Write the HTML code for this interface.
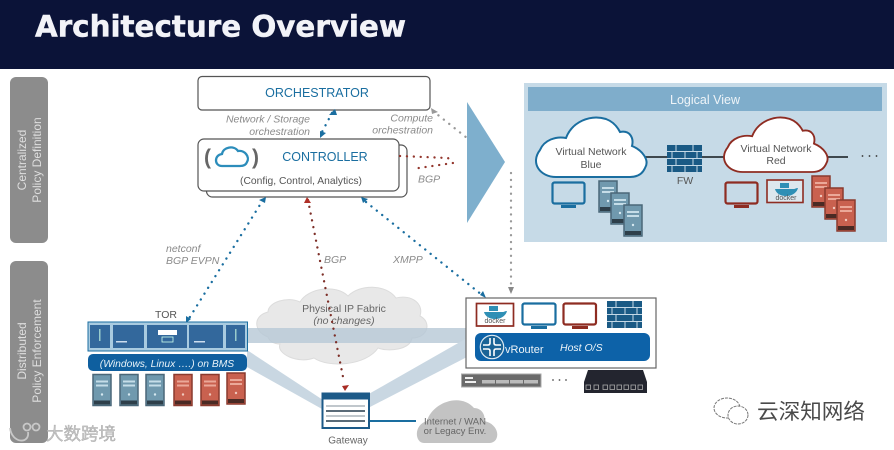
<!DOCTYPE html>
<html><head><meta charset="utf-8"><style>
html,body{margin:0;padding:0;background:#fff;width:894px;height:450px;overflow:hidden}
svg{display:block;filter:blur(.3px)}
text{font-family:"Liberation Sans","Noto Sans CJK SC",sans-serif}
</style></head><body>
<svg width="894" height="450" viewBox="0 0 894 450" xmlns="http://www.w3.org/2000/svg">
<defs>
<symbol id="srvB" overflow="visible"><rect x="0" y="0" width="18" height="31" fill="#7099ae" stroke="#4a6778" stroke-width="1.5"/><rect x="3" y="6" width="12" height="2" fill="#c5dde8"/><rect x="3" y="10" width="12" height="2" fill="#c5dde8"/><circle cx="9" cy="20" r="1.2" fill="#d5e8f0"/><rect x="1" y="26" width="16" height="4" fill="#2e3f4a"/></symbol>
<symbol id="srvR" overflow="visible"><rect x="0" y="0" width="18" height="31" fill="#c9614f" stroke="#8a3a2e" stroke-width="1.5"/><rect x="3" y="6" width="12" height="2" fill="#eba898"/><rect x="3" y="10" width="12" height="2" fill="#eba898"/><circle cx="9" cy="20" r="1.2" fill="#f0c8bd"/><rect x="1" y="26" width="16" height="4" fill="#4a2a24"/></symbol>
<symbol id="fw" overflow="visible"><rect width="35" height="27" fill="#1a5a85"/><g stroke="#c5d9e6" stroke-width="1" fill="none"><path d="M0 6.5H35M0 13.5H35M0 20.5H35M9 0V6.5M26 0V6.5M5 6.5V13.5M18 6.5V13.5M30 6.5V13.5M9 13.5V20.5M26 13.5V20.5M5 20.5V27M18 20.5V27M30 20.5V27"/></g></symbol>
<symbol id="docker" overflow="visible"><path d="M7 9H26C27 9 28 8 30 8 29 12 25 16 18 16 12 16 8 13 7 9Z" fill="#2f8fb5"/><rect x="12" y="3" width="9" height="5" fill="#2f8fb5"/><text x="18" y="20" font-size="7" fill="#555" text-anchor="middle">docker</text></symbol>
<path id="cl" d="M556 177C540 177 530 163 540 150C544 140 556 136 566 138C572 122 590 114 606 119C614 122 618 128 620 132C630 130 634 138 632 146C642 150 650 160 645 168C642 175 636 177 630 177Z"/>
</defs>

<rect width="894" height="69" fill="#0b1338"/>
<text x="35" y="36.500" font-size="29" font-weight="bold" fill="#f2f3f8" stroke="#f2f3f8" stroke-width=".5" textLength="371" lengthAdjust="spacingAndGlyphs" style='font-family:"DejaVu Sans",sans-serif'>Architecture Overview</text>

<rect x="10" y="77" width="38" height="166" rx="6" fill="#8c8c8c"/>
<rect x="10" y="261" width="38" height="182" rx="6" fill="#8c8c8c"/>
<g fill="#dedede" font-size="12" text-anchor="middle">
<text transform="translate(26,160) rotate(-90)">Centralized</text>
<text transform="translate(41,160) rotate(-90)">Policy Definition</text>
<text transform="translate(26,351) rotate(-90)">Distributed</text>
<text transform="translate(41,351) rotate(-90)">Policy Enforcement</text>
</g>

<!-- fabric cloud + bands -->
<path d="M268 337C254 332 252 316 268 312C268 302 288 296 300 302C308 288 336 284 348 296C360 284 386 284 396 298C412 294 424 304 420 316C432 322 428 338 412 338C410 350 388 352 378 348C366 366 328 368 314 358C298 364 276 354 280 344C274 344 270 342 268 337Z" fill="#e8e8e8" stroke="#dcdcdc"/>
<rect x="248" y="328" width="218" height="15" fill="#b7c8d6" opacity=".8"/>
<path d="M247 350L323 400L322 409L247 367Z" fill="#c9d7e2"/>
<path d="M467 338L367 395L370 407L467 357Z" fill="#c9d7e2"/>
<text x="344" y="312" font-size="10.500" fill="#666" text-anchor="middle">Physical IP Fabric</text>
<text x="344" y="324" font-size="10.500" font-style="italic" fill="#666" text-anchor="middle">(no changes)</text>

<!-- orchestrator / controller -->
<rect x="198" y="76.500" width="232" height="33.500" rx="4" fill="#fff" stroke="#555" stroke-width="1.200"/>
<text x="317" y="97" font-size="12.500" fill="#1a6ea0" text-anchor="middle">ORCHESTRATOR</text>
<rect x="206.500" y="145" width="200.500" height="52" rx="6" fill="#fff" stroke="#555" stroke-width="1.200"/>
<rect x="198" y="139" width="201" height="52" rx="6" fill="#fff" stroke="#555" stroke-width="1.200"/>
<text x="325" y="161" font-size="12.500" fill="#1a6ea0" text-anchor="middle">CONTROLLER</text>
<text x="301" y="184" font-size="10.300" fill="#555" text-anchor="middle">(Config, Control, Analytics)</text>
<text x="204" y="164" font-size="21" font-weight="bold" fill="#666">(</text>
<text x="252" y="164" font-size="21" font-weight="bold" fill="#666">)</text>
<path d="M222 166C214 166 214 155 222 154C223 147 234 145 238 151C245 150 250 157 247 162C246 165 243 166 240 166Z" fill="none" stroke="#2c8dbb" stroke-width="2.300"/>

<g font-size="10.500" font-style="italic" fill="#8a8a8a">
<text x="310" y="122.500" text-anchor="end">Network / Storage</text>
<text x="310" y="135" text-anchor="end">orchestration</text>
<text x="433" y="121.500" text-anchor="end">Compute</text>
<text x="433" y="133.500" text-anchor="end">orchestration</text>
<text x="418" y="182.500">BGP</text>
<text x="166" y="252">netconf</text>
<text x="166" y="264">BGP EVPN</text>
<text x="324" y="263">BGP</text>
<text x="393" y="263">XMPP</text>
</g>

<!-- connectors -->
<g fill="none" stroke-width="2.300" stroke-linecap="round" stroke-dasharray="0.1 6.800">
<path d="M332 113L322 132" stroke="#1a6ea0"/>
<path d="M433 111L467 138" stroke="#999"/>
<path d="M400 156L448 158L453 163L412 169" stroke="#93362c"/>
<path d="M263 200L188 320" stroke="#1a6ea0"/>
<path d="M308 200L344 382" stroke="#7d2f28"/>
<path d="M366 202L482 295" stroke="#1a6ea0"/>
<path d="M511 173V288" stroke="#999"/>
</g>
<g>
<path d="M335 109L329 115L337 115Z" fill="#1a6ea0"/>
<path d="M320 138L320 131L326 133Z" fill="#1a6ea0"/>
<path d="M431 108L438 112L432 114Z" fill="#999"/>
<path d="M266 197L259 200L265 203Z" fill="#1a6ea0"/>
<path d="M307 197L304 203L311 203Z" fill="#b03028"/>
<path d="M361 197L368 199L363 203Z" fill="#1a6ea0"/>
<path d="M186 323L191 319L186 316Z" fill="#1a6ea0"/>
<path d="M345 391L342 386L349 385Z" fill="#a82c24"/>
<path d="M486 298L480 295L483 291Z" fill="#1a6ea0"/>
<path d="M511 294L508 287H514Z" fill="#888"/>
</g>

<path d="M467 102L505 162L467 223Z" fill="#7eafcd"/>

<!-- logical view -->
<rect x="524" y="83" width="363" height="159" fill="#c6dae7"/>
<rect x="528" y="87" width="354" height="24" fill="#7fadcb"/>
<text x="705" y="104" font-size="12.500" fill="#eef4f8" text-anchor="middle">Logical View</text>
<path d="M640 157H848" stroke="#2a3338" stroke-width="1.800"/>
<use href="#cl" fill="#fff" stroke="#1a6ea0" stroke-width="2"/>
<use href="#cl" transform="translate(724,117) scale(.937,.917) translate(-536,-117)" fill="#fff" stroke="#8e2c22" stroke-width="2"/>
<g font-size="10.500" fill="#555" text-anchor="middle">
<text x="591" y="155">Virtual Network</text><text x="591" y="168">Blue</text>
<text x="776" y="152">Virtual Network</text><text x="776" y="164">Red</text>
<text x="685" y="184">FW</text>
</g>
<use href="#fw" x="667" y="145"/>
<g fill="#333"><circle cx="862.500" cy="156" r=".9"/><circle cx="869.500" cy="156" r=".9"/><circle cx="876.500" cy="156" r=".9"/></g>
<rect x="552.500" y="182.500" width="32" height="21" rx="2" fill="none" stroke="#1a6ea0" stroke-width="2.200"/>
<rect x="561" y="205" width="15" height="3" fill="#1a6ea0"/>
<use href="#srvB" x="599" y="181"/><use href="#srvB" x="611" y="193"/><use href="#srvB" x="624" y="205"/>
<rect x="725.500" y="182.500" width="32" height="21" rx="2" fill="none" stroke="#8e2c22" stroke-width="2.200"/>
<rect x="734" y="205" width="15" height="3" fill="#8e2c22"/>
<rect x="767" y="180" width="36" height="22.500" fill="#dde7ee" stroke="#8e2c22" stroke-width="1.600"/>
<use href="#docker" x="768" y="180"/>
<use href="#srvR" x="812" y="176"/><use href="#srvR" x="825" y="188"/><use href="#srvR" x="837" y="200"/>

<!-- TOR -->
<text x="166" y="318" font-size="10.500" fill="#555" text-anchor="middle">TOR</text>
<rect x="88" y="322" width="159.500" height="29" fill="#a9cbe0" stroke="#1a6ea0"/>
<g fill="#33689c">
<rect x="90" y="325" width="20" height="23"/><rect x="113" y="325" width="31" height="23"/><rect x="147" y="325" width="40" height="23"/><rect x="189" y="325" width="34" height="23"/><rect x="226" y="325" width="19" height="23"/>
</g>
<rect x="158" y="330" width="19" height="5" fill="#fff"/><rect x="162" y="337" width="11" height="5" fill="none" stroke="#cfe" stroke-width=".8"/>
<rect x="116" y="341" width="11" height="1.500" fill="#cde"/><rect x="194" y="341" width="11" height="1.500" fill="#cde"/><rect x="99" y="329" width="1.500" height="12" fill="#9cc"/><rect x="235" y="329" width="1.500" height="12" fill="#9cc"/>
<rect x="88" y="354" width="159" height="17" rx="5" fill="#0f5f9f"/>
<text x="167" y="367" font-size="10.300" font-style="italic" fill="#e8f2f8" text-anchor="middle">(Windows, Linux ….) on BMS</text>
<use href="#srvB" x="93" y="374.500"/><use href="#srvB" x="120" y="374.500"/><use href="#srvB" x="146" y="374.500"/>
<use href="#srvR" x="174" y="374.500"/><use href="#srvR" x="201" y="374.500"/><use href="#srvR" x="227" y="373"/>

<!-- gateway -->
<rect x="322.500" y="393.500" width="46.500" height="34.500" fill="#fff" stroke="#1c5a88" stroke-width="2"/>
<rect x="322" y="393" width="47" height="6.500" fill="#1c5a88"/>
<path d="M326 411H365M326 421H365" stroke="#5a6b78" stroke-width="2"/>
<path d="M326 406H365M326 416H365" stroke="#5a6b78" stroke-width=".8"/>
<text x="348" y="443.500" font-size="10" fill="#666" text-anchor="middle">Gateway</text>
<path d="M370 421H416" stroke="#1a6ea0" stroke-width="2"/>
<path d="M424 443C415 443 413 425 427 421C432 403 460 392 474 408C482 408 486 416 484 421C500 424 501 442 490 443Z" fill="#c3c3c3"/>
<g font-size="9.500" fill="#666" text-anchor="middle"><text x="455" y="424.500">Internet / WAN</text><text x="455" y="434">or Legacy Env.</text></g>

<!-- host -->
<rect x="466" y="298" width="190" height="70" fill="#fff" stroke="#666" stroke-width="1.200"/>
<rect x="476.500" y="303.500" width="37" height="22.500" fill="#fff" stroke="#8e2c22" stroke-width="1.700"/>
<use href="#docker" x="477" y="303"/>
<rect x="522.500" y="303.500" width="33" height="21" rx="2" fill="#fff" stroke="#1a6ea0" stroke-width="2.200"/><rect x="531" y="326" width="16" height="3" fill="#1a6ea0"/>
<rect x="563.500" y="303.500" width="32.500" height="21" rx="2" fill="#fff" stroke="#8e2c22" stroke-width="2.200"/><rect x="572" y="326" width="16" height="3" fill="#8e2c22"/>
<use href="#fw" x="607" y="301"/>
<rect x="475" y="333" width="175" height="28" rx="6" fill="#0d62a8"/>
<circle cx="492" cy="347" r="11.700" fill="#1a6396" stroke="#dfeaf2" stroke-width="1.200"/>
<path d="M483 345H488Q490 345 490 343V338M501 345H496Q494 345 494 343V338M483 349H488Q490 349 490 351V356M501 349H496Q494 349 494 351V356" fill="none" stroke="#fff" stroke-width="1.600"/>
<text x="505" y="353" font-size="11" fill="#eef4f8">vRouter</text>
<text x="560" y="351" font-size="10.500" font-style="italic" fill="#eef4f8">Host O/S</text>
<rect x="461.500" y="374" width="79.500" height="13" fill="#6a6a6a" stroke="#aaa"/>
<rect x="482" y="380" width="13" height="3.500" fill="#bbb"/><rect x="496" y="380" width="13" height="3.500" fill="#bbb"/><rect x="510" y="380" width="13" height="3.500" fill="#bbb"/><rect x="524" y="380" width="14" height="3.500" fill="#bbb"/>
<rect x="465" y="377" width="8" height="2" fill="#eee"/><rect x="465" y="381" width="11" height="2" fill="#eee"/>
<g fill="#555"><circle cx="553" cy="380" r=".9"/><circle cx="559.500" cy="380" r=".9"/><circle cx="566" cy="380" r=".9"/></g>
<path d="M588 370H643L647 382V393H584V382Z" fill="#23252f"/>
<g fill="none" stroke="#aaa" stroke-width=".8"><rect x="586" y="385" width="4.500" height="4.500"/><rect x="594" y="385" width="4.500" height="4.500"/><rect x="603" y="385" width="4.500" height="4.500"/><rect x="610" y="385" width="4.500" height="4.500"/><rect x="617" y="385" width="4.500" height="4.500"/><rect x="624" y="385" width="4.500" height="4.500"/><rect x="631" y="385" width="4.500" height="4.500"/><rect x="638" y="385" width="4.500" height="4.500"/></g>

<!-- watermarks -->
<g fill="none" stroke="#c8c8c8" stroke-width="1.800"><path d="M10 428C12 444 30 444 28 432"/><circle cx="27" cy="427" r="3.500"/><circle cx="36" cy="427" r="3.500"/></g>
<text x="46" y="440" font-size="17.500" fill="#c4c4c4" stroke="#999" stroke-width=".3">大数跨境</text>
<g fill="#fff" stroke="#777" stroke-width="1" stroke-dasharray="3 1"><ellipse cx="727" cy="408" rx="13" ry="10"/><ellipse cx="738" cy="415" rx="10" ry="9"/></g>
<text x="757" y="419" font-size="21.500" fill="#4a4a4a" textLength="108" lengthAdjust="spacingAndGlyphs">云深知网络</text>
</svg>
</body></html>
